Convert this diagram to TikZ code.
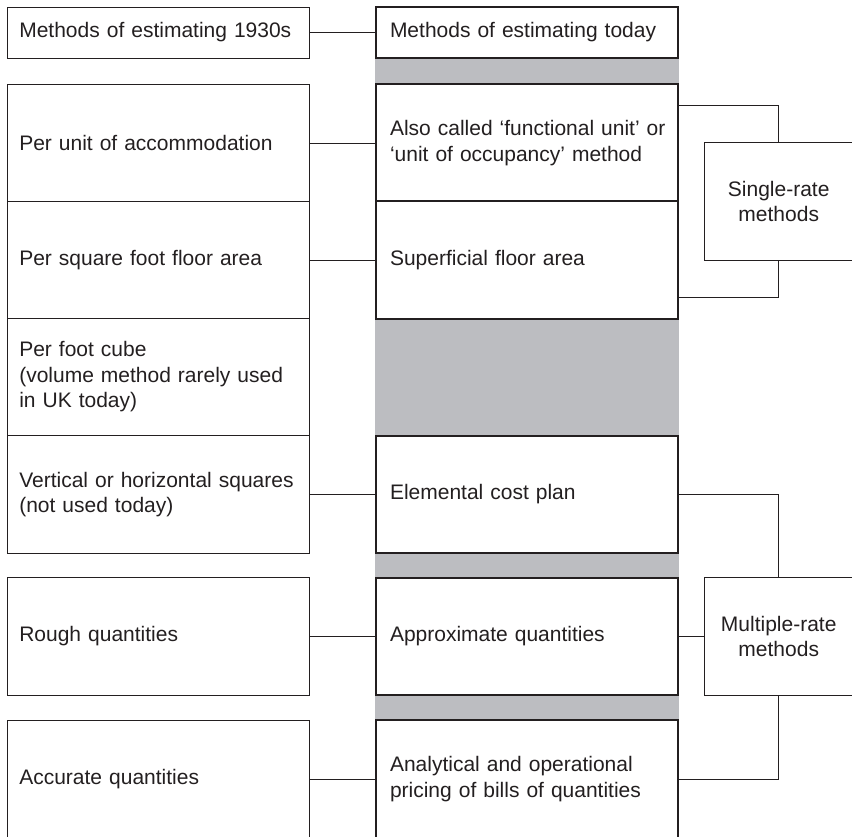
\documentclass[tikz,border=0pt]{standalone}
\usepackage{fontspec}
\setmainfont{Liberation Sans}
\usepackage{xcolor}
\definecolor{bandgray}{RGB}{188,189,193}
\definecolor{inkgray}{RGB}{35,31,32}
\begin{document}
\begin{tikzpicture}[x=1pt,y=-1pt,
    every node/.style={font=\fontsize{21}{25.5}\selectfont, text=inkgray},
    oldbox/.style={draw=inkgray, line width=0.9pt, minimum height=117.5pt, text width=277.4pt,
                   inner xsep=12.3pt, inner ysep=0pt, align=left, outer sep=0pt},
    newbox/.style={draw=inkgray, line width=2.4pt, fill=white, minimum height=117.5pt, text width=274pt,
                   inner xsep=14pt, inner ysep=0pt, align=left, outer sep=0pt},
    ratebox/.style={draw=inkgray, line width=0.9pt, fill=white, minimum width=148.5pt,
                    minimum height=117.5pt, align=center, outer sep=0pt},
    link/.style={draw=inkgray, line width=0.9pt}]
            \clip (0,0) rectangle (852,836);

            % grey band behind the column of today's methods
            \fill[bandgray] (375,58) rectangle (679,840);

            % methods of the 1930s
            \node[oldbox, minimum height=51pt] (old1930) at (158,32.5) {Methods of estimating 1930s};
            \node[oldbox] (perunit) at (158,143) {Per unit of accommodation};
            \node[oldbox] (persqft) at (158,260) {Per square foot floor area};
            \node[oldbox] (percube) at (158,377) {Per foot cube\\(volume method rarely used\\in UK today)};
            \node[oldbox] (vertsq) at (158,494.5) {Vertical or horizontal squares\\(not used today)};
            \node[oldbox] (rough) at (158,636.5) {Rough quantities};
            \node[oldbox] (accurate) at (158,779) {Accurate quantities};

            % methods of today
            \node[newbox, minimum height=51pt] (today) at (527,32.5) {Methods of estimating today};
            \node[newbox] (funcunit) at (527,143) {\mbox{Also called ‘functional unit’ or}\\‘unit of occupancy’ method};
            \node[newbox] (floorarea) at (527,260) {Superficial floor area};
            \node[newbox] (elemental) at (527,494.5) {Elemental cost plan};
            \node[newbox] (approx) at (527,636.5) {Approximate quantities};
            \node[newbox] (bills) at (527,779) {Analytical and operational\\pricing of bills of quantities};

            % groups of methods
            \node[ratebox] (single) at (778.75,201.4) {Single-rate\\methods};
            \node[ratebox] (multiple) at (778.75,636.25) {Multiple-rate\\methods};

            % links from old to new
            \draw[link] (old1930) -- (today);
            \draw[link] (perunit) -- (funcunit);
            \draw[link] (persqft) -- (floorarea);
            \draw[link] (vertsq) -- (elemental);
            \draw[link] (rough) -- (approx);
            \draw[link] (accurate) -- (bills);

            % links to the groups
            \draw[link] ([yshift=37.7pt]funcunit.east) -| (single.north);
            \draw[link] ([yshift=-37.7pt]floorarea.east) -| (single.south);
            \draw[link] (elemental.east) -| (multiple.north);
            \draw[link] (approx.east) -- (approx.east -| multiple.west);
            \draw[link] (bills.east) -| (multiple.south);
        \end{tikzpicture}
\end{document}
